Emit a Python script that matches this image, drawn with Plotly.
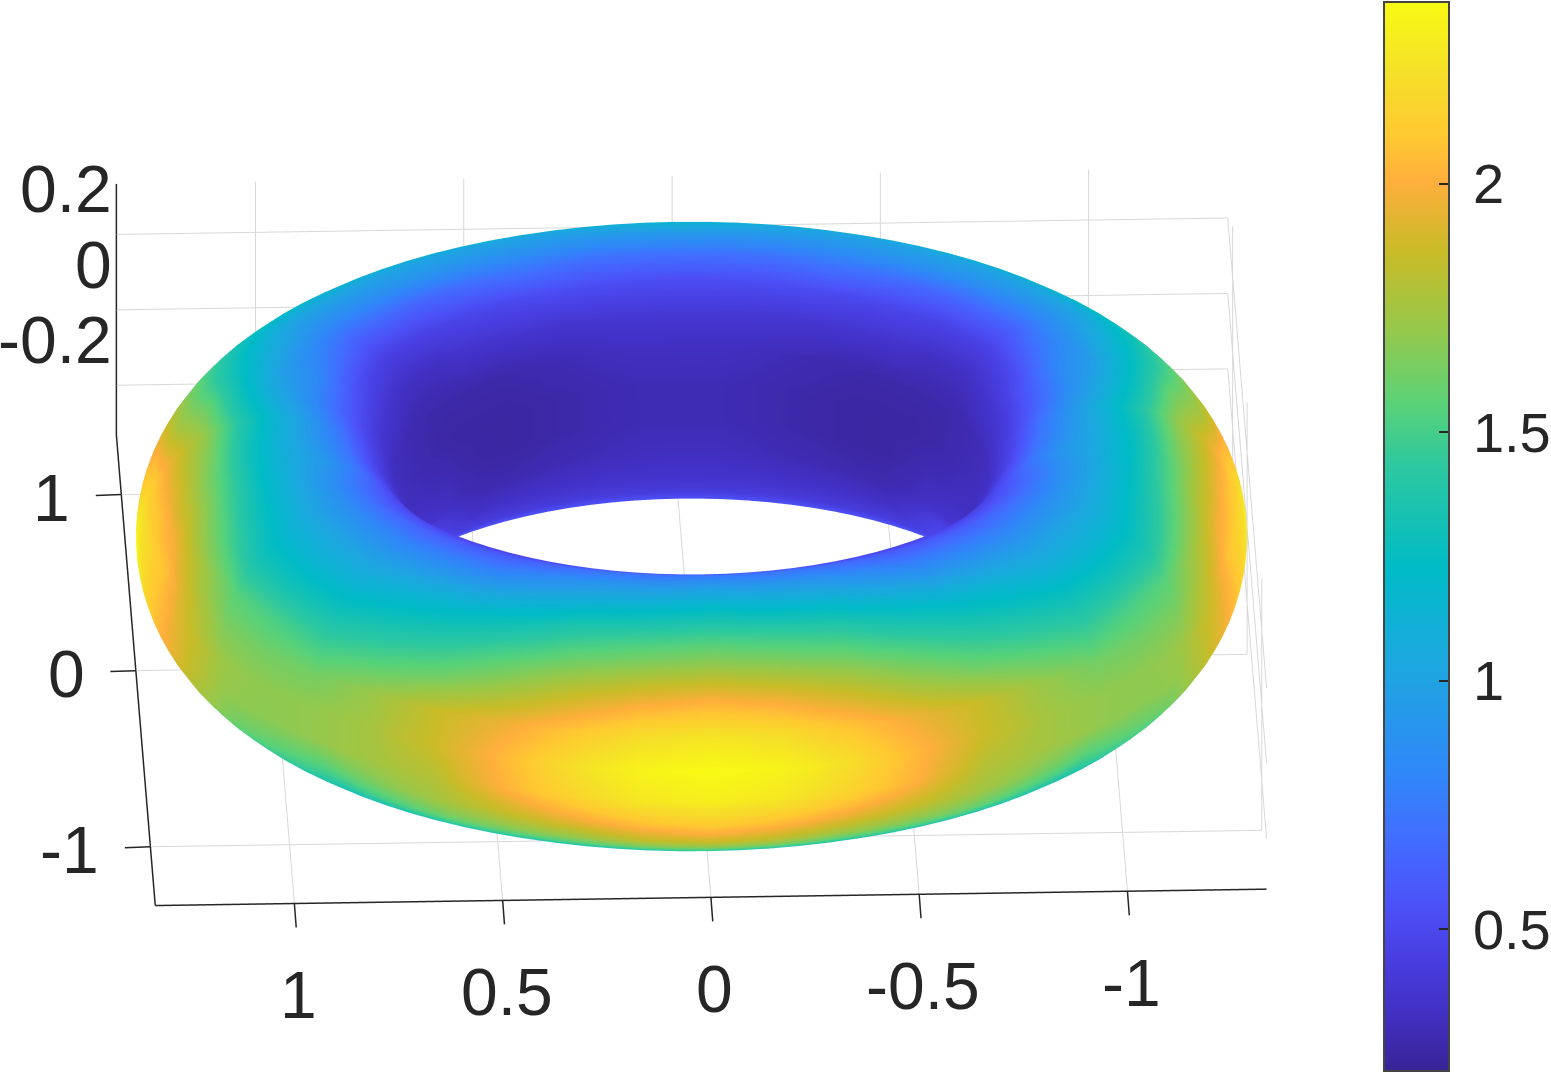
import numpy as np
import plotly.graph_objects as go

RING_RADIUS = 1.0
TUBE_RADIUS = 0.3333

# angle round the ring (0 = front, 180 = back); the picture is mirrored about 0
RING_DEG = [0, 3.75, 7.5, 11.25, 15, 18.75, 22.5, 26.25, 30, 33.75, 37.5, 41.25, 45, 48.75, 52.5, 56.25,
            60, 63.75, 67.5, 71.25, 75, 78.75, 82.5, 86.25, 90, 93.75, 97.5, 101.25, 105, 108.75, 112.5, 116.25,
            120, 123.75, 127.5, 131.25, 135, 138.75, 142.5, 146.25, 150, 153.75, 157.5, 161.25, 165, 168.75, 172.5, 176.25, 180]
# angle round the tube (0 = outer equator, 90 = top, 180 = inner equator)
TUBE_DEG = [-180, -165, -150, -135, -120, -105, -90, -75, -67.5, -60, -52.5, -45, -37.5, -30, -22.5, -15, -7.5,
            0, 7.5, 15, 22.5, 30, 37.5, 45, 52.5, 60, 67.5, 75, 90, 105, 120, 135, 150, 165]

# colour values, one row per TUBE_DEG, one column per RING_DEG
VALUES = [
    [.55, .55, .55, .55, .55, .55, .55, .55, .55, .535, .52, .51, .5, .485, .47, .455, .44, .43, .42, .41, .40, .385, .37, .36, .35, .345, .34, .335, .33, .32, .31, .305, .30, .285, .27, .26, .25, .25, .25, .255, .26, .265, .27, .28, .29, .295, .30, .30, .30],
    [.5] * 15 + [.49, .48, .47, .46, .455, .45, .44, .43, .425, .42, .415, .41, .405, .40, .385, .37, .36, .35, .33, .31, .295, .28, .28, .28, .285, .29, .295, .30, .305, .31, .315, .32, .32, .32],
    [.5] * 33 + [.46, .42, .385, .35, .35, .35, .35, .35, .35, .35, .355, .36, .36, .36, .36, .36],
    [.6] * 29 + [.59, .58, .565, .55, .525, .5, .475, .45, .44, .43, .425, .42, .42, .42, .42, .42, .42, .42, .42, .42],
    [.8] * 29 + [.775, .75, .725, .7, .675, .65, .625, .6, .585, .57, .56, .55, .55, .55, .55, .55, .55, .55, .55, .55],
    [1.0] * 29 + [.975, .95, .925, .9, .875, .85, .825, .8, .79, .78, .77, .76, .755, .75, .75, .75, .75, .75, .75, .75],
    [1.1] * 27 + [1.075, 1.05, 1.025] + [1.0] * 19,
    [1.15, 1.14, 1.13, 1.125, 1.12, 1.11] + [1.1] * 11 + [1.125, 1.15, 1.175] + [1.2] * 9 + [1.175] + [1.15] * 19,
    [1.3, 1.29, 1.275, 1.26, 1.25, 1.24, 1.23, 1.23, 1.225, 1.21, 1.2, 1.19, 1.175, 1.18, 1.185, 1.19, 1.2, 1.225, 1.25, 1.275, 1.3, 1.31, 1.325, 1.34, 1.35, 1.34, 1.325, 1.31, 1.3, 1.275, 1.25, 1.24] + [1.225] * 17,
    [1.45, 1.435, 1.42, 1.40, 1.38, 1.37, 1.36, 1.355, 1.35, 1.325, 1.3, 1.275, 1.25, 1.26, 1.27, 1.285, 1.3, 1.325, 1.35, 1.375, 1.4, 1.425, 1.45, 1.475, 1.5, 1.475, 1.45, 1.425, 1.4, 1.375, 1.35, 1.325] + [1.3] * 17,
    [1.65, 1.63, 1.61, 1.575, 1.54, 1.52, 1.505, 1.49, 1.475, 1.44, 1.4, 1.36, 1.325, 1.34, 1.36, 1.38, 1.4, 1.44, 1.475, 1.51, 1.55, 1.58, 1.615, 1.645, 1.675, 1.64, 1.6, 1.56, 1.525, 1.49, 1.45, 1.425, 1.4, 1.39, 1.375, 1.36] + [1.35] * 13,
    [1.85, 1.825, 1.8, 1.75, 1.7, 1.675, 1.65, 1.625, 1.6, 1.55, 1.5, 1.45, 1.4, 1.425, 1.45, 1.475, 1.5, 1.55, 1.6, 1.65, 1.7, 1.74, 1.78, 1.815, 1.85, 1.8, 1.75, 1.7, 1.65, 1.6, 1.55, 1.525, 1.5, 1.475, 1.45, 1.425] + [1.4] * 13,
    [1.975, 1.95, 1.925, 1.875, 1.825, 1.79, 1.75, 1.71, 1.675, 1.625, 1.575, 1.525, 1.475, 1.495, 1.515, 1.54, 1.56, 1.62, 1.675, 1.74, 1.8, 1.845, 1.89, 1.93, 1.975, 1.91, 1.85, 1.79, 1.725, 1.675, 1.625, 1.59, 1.55, 1.525, 1.5, 1.475] + [1.45] * 13,
    [2.1, 2.075, 2.05, 2.0, 1.95, 1.9, 1.85, 1.8, 1.75, 1.7, 1.65, 1.6, 1.55, 1.565, 1.58, 1.6, 1.62, 1.685, 1.75, 1.825, 1.9, 1.95, 2.0, 2.05, 2.1, 2.025, 1.95, 1.875, 1.8, 1.75, 1.7, 1.65, 1.6, 1.575, 1.55, 1.525] + [1.5] * 13,
    [2.2, 2.18, 2.155, 2.105, 2.05, 1.99, 1.925, 1.85, 1.775, 1.74, 1.7, 1.66, 1.625, 1.63, 1.63, 1.645, 1.66, 1.73, 1.8, 1.875, 1.95, 2.01, 2.075, 2.14, 2.2, 2.11, 2.025, 1.95, 1.875, 1.81, 1.75, 1.7, 1.65, 1.625, 1.6, 1.575, 1.55, 1.54] + [1.525] * 11,
    [2.3, 2.28, 2.26, 2.21, 2.15, 2.08, 2.0, 1.9, 1.8, 1.775, 1.75, 1.725, 1.7, 1.69, 1.68, 1.69, 1.7, 1.775, 1.85, 1.925, 2.0, 2.075, 2.15, 2.225, 2.3, 2.2, 2.1, 2.025, 1.95, 1.875, 1.8, 1.75, 1.7, 1.675, 1.65, 1.625, 1.6, 1.575] + [1.55] * 11,
    [2.33, 2.31, 2.29, 2.24, 2.175, 2.095, 2.01, 1.92, 1.83, 1.795, 1.75, 1.72, 1.70, 1.69, 1.685, 1.695, 1.715, 1.795, 1.865, 1.945, 2.025, 2.1, 2.175, 2.25, 2.33, 2.24, 2.15, 2.06, 1.975, 1.9, 1.825, 1.775, 1.725, 1.7, 1.675, 1.65, 1.625, 1.6, 1.575, 1.56, 1.55, 1.54] + [1.525] * 7,
    [2.36, 2.345, 2.32, 2.27, 2.2, 2.11, 2.02, 1.94, 1.86, 1.815, 1.75, 1.72, 1.70, 1.69, 1.69, 1.70, 1.73, 1.815, 1.88, 1.965, 2.05, 2.125, 2.2, 2.28, 2.36, 2.28, 2.2, 2.1, 2.0, 1.925, 1.85, 1.8, 1.75, 1.725, 1.7, 1.675, 1.65, 1.625, 1.6, 1.575, 1.55, 1.525] + [1.5] * 7,
    [2.305, 2.285, 2.26, 2.205, 2.14, 2.06, 1.985, 1.92, 1.855, 1.8, 1.735, 1.695, 1.66, 1.655, 1.655, 1.67, 1.69, 1.78, 1.865, 1.965, 2.065, 2.13, 2.19, 2.25, 2.305, 2.22, 2.14, 2.06, 1.975, 1.905, 1.835, 1.78, 1.725, 1.69, 1.65, 1.62, 1.585, 1.56, 1.54, 1.52, 1.5, 1.48, 1.46, 1.455, 1.45, 1.45, 1.45, 1.45, 1.45],
    [2.25, 2.225, 2.2, 2.14, 2.08, 2.015, 1.95, 1.9, 1.85, 1.785, 1.72, 1.67, 1.62, 1.62, 1.62, 1.635, 1.65, 1.75, 1.85, 1.965, 2.08, 2.13, 2.18, 2.215, 2.25, 2.165, 2.08, 2.015, 1.95, 1.885, 1.82, 1.76, 1.7, 1.65, 1.6, 1.56, 1.52, 1.5, 1.48, 1.465, 1.45, 1.435, 1.42, 1.41, 1.4, 1.4, 1.4, 1.4, 1.4],
    [2.125, 2.1, 2.075, 2.02, 1.965, 1.9, 1.835, 1.78, 1.725, 1.67, 1.62, 1.58, 1.535, 1.55, 1.56, 1.58, 1.6, 1.7, 1.8, 1.91, 2.015, 2.065, 2.115, 2.145, 2.175, 2.11, 2.04, 1.97, 1.9, 1.81, 1.71, 1.655, 1.6, 1.555, 1.51, 1.48, 1.45, 1.43, 1.405, 1.39, 1.375, 1.365, 1.355, 1.35, 1.34, 1.34, 1.34, 1.34, 1.34],
    [2.0, 1.975, 1.95, 1.9, 1.85, 1.785, 1.72, 1.66, 1.6, 1.56, 1.52, 1.485, 1.45, 1.475, 1.5, 1.525, 1.55, 1.65, 1.75, 1.85, 1.95, 2.0, 2.05, 2.075, 2.1, 2.06, 2.0, 1.93, 1.85, 1.73, 1.6, 1.55, 1.5, 1.46, 1.42, 1.4, 1.38, 1.355, 1.33, 1.315, 1.3, 1.295, 1.29, 1.285, 1.28, 1.28, 1.28, 1.28, 1.28],
    [1.85, 1.83, 1.805, 1.765, 1.725, 1.67, 1.61, 1.555, 1.5, 1.46, 1.425, 1.395, 1.365, 1.38, 1.4, 1.425, 1.45, 1.55, 1.65, 1.75, 1.85, 1.9, 1.95, 1.975, 2.0, 1.94, 1.875, 1.815, 1.75, 1.65, 1.55, 1.48, 1.41, 1.38, 1.35, 1.33, 1.315, 1.3, 1.29, 1.28, 1.275, 1.27, 1.27, 1.265, 1.265, 1.265, 1.265, 1.265, 1.265],
    [1.7, 1.68, 1.66, 1.63, 1.6, 1.55, 1.5, 1.45, 1.4, 1.365, 1.33, 1.305, 1.28, 1.29, 1.3, 1.325, 1.35, 1.45, 1.55, 1.65, 1.75, 1.8, 1.85, 1.875, 1.9, 1.825, 1.75, 1.7, 1.65, 1.57, 1.5, 1.41, 1.32, 1.3, 1.28, 1.265] + [1.25] * 13,
    [1.575, 1.56, 1.54, 1.515, 1.49, 1.44, 1.39, 1.345, 1.3, 1.27, 1.24, 1.215, 1.19, 1.205, 1.22, 1.25, 1.275, 1.36, 1.45, 1.54, 1.625, 1.68, 1.735, 1.77, 1.8, 1.74, 1.675, 1.605, 1.535, 1.465, 1.4, 1.33, 1.26, 1.24, 1.225, 1.21, 1.2, 1.2, 1.2, 1.2, 1.2, 1.2, 1.205, 1.21, 1.215, 1.22, 1.23, 1.24, 1.25],
    [1.45, 1.435, 1.42, 1.4, 1.38, 1.33, 1.28, 1.24, 1.2, 1.175, 1.15, 1.125, 1.1, 1.12, 1.14, 1.17, 1.2, 1.275, 1.35, 1.43, 1.5, 1.56, 1.62, 1.67, 1.7, 1.65, 1.6, 1.51, 1.42, 1.36, 1.3, 1.25, 1.2, 1.185, 1.17, 1.16, 1.15, 1.15, 1.15, 1.15, 1.15, 1.155, 1.16, 1.17, 1.18, 1.195, 1.21, 1.23, 1.25],
    [1.325, 1.31, 1.29, 1.27, 1.25, 1.2, 1.155, 1.115, 1.075, 1.06, 1.05, 1.04, 1.025, 1.05, 1.07, 1.1, 1.125, 1.19, 1.25, 1.315, 1.375, 1.425, 1.475, 1.52, 1.55, 1.5, 1.45, 1.38, 1.31, 1.255, 1.2, 1.15, 1.1, 1.09, 1.085, 1.08, 1.075, 1.075, 1.075, 1.075, 1.075, 1.08, 1.085, 1.09, 1.1, 1.12, 1.135, 1.155, 1.175],
    [1.2, 1.18, 1.16, 1.14, 1.12, 1.075, 1.03, .99, .95, .95, .95, .95, .95, .975, 1.0, 1.025, 1.05, 1.1, 1.15, 1.2, 1.25, 1.29, 1.33, 1.37, 1.4, 1.35, 1.3, 1.25, 1.2, 1.15, 1.1, 1.05, 1.0, 1.0, 1.0, 1.0, 1.0, 1.0, 1.0, 1.0, 1.0, 1.005, 1.01, 1.015, 1.02, 1.04, 1.06, 1.08, 1.1],
    [.95, .935, .92, .91, .9, .86, .82, .785, .75, .755, .76, .77, .78, .81, .84, .87, .9, .935, .97, 1.01, 1.05, 1.075, 1.1, 1.13, 1.15, 1.1, 1.05, 1.0, .95, .925, .9, .875, .85, .85, .86, .87, .88, .89, .9, .9, .9, .9, .9, .9, .9, .9, .9, .91, .92],
    [.75, .74, .73, .725, .72, .69, .66, .63, .6, .605, .61, .615, .62, .645, .67, .695, .72, .76, .8, .86, .92, .92, .92, .92, .92, .89, .85, .83, .82, .77, .72, .68, .63, .64, .65, .65, .65, .66, .67, .69, .7, .72, .72, .71, .7, .7, .7, .7, .7],
    [.6, .59, .58, .565, .55, .525, .5, .49, .48, .475, .47, .475, .48, .495, .51, .53, .55, .58, .62, .67, .72, .72, .72, .71, .7, .66, .62, .6, .57, .53, .5, .47, .45, .45, .46, .46, .47, .48, .49, .49, .5, .51, .52, .52, .52, .52, .52, .52, .52],
    [.5, .49, .48, .465, .45, .45, .45, .45, .45, .44, .43, .425, .42, .43, .44, .45, .46, .47, .48, .49, .5, .49, .48, .47, .47, .45, .43, .41, .4, .38, .36, .34, .33, .33, .33, .34, .36, .365, .37, .375, .38, .38, .38, .385, .39, .395, .4, .4, .4],
    [.5, .49, .48, .465, .45, .45, .45, .45, .45, .44, .43, .425, .42, .415, .41, .405, .4, .385, .37, .36, .35, .345, .34, .335, .33, .32, .31, .305, .3, .29, .28, .275, .27, .27, .27, .27, .27, .27, .27, .275, .28, .29, .3, .31, .32, .325, .33, .33, .33],
    [.55, .54, .53, .515, .5, .5, .5, .5, .5, .49, .48, .465, .45, .435, .42, .41, .4, .4, .4, .4, .4, .38, .36, .34, .32, .315, .31, .305, .3, .29, .28, .27, .26, .255, .25, .25, .25, .25, .25, .255, .26, .265, .27, .28, .29, .295, .3, .3, .3],
]

COLOR_MIN = 0.214
COLOR_MAX = 2.366
COLORBAR_TICKS = [0.5, 1, 1.5, 2]
COLORBAR_LABELS = ['\u20090.5', '\u20091', '\u20091.5', '\u20092']

X_TICKS = [-1, -0.5, 0, 0.5, 1]
X_LABELS = ['-1', '-0.5', '0', '0.5', '1']
Y_TICKS = [-1, 0, 1]
Y_LABELS = ['-1', '0', '1']
Z_TICKS = [-0.2, 0, 0.2]
Z_LABELS = ['-0.2', '0', '0.2']
X_LIM = 1.334
Y_LIM = 1.334
Z_LIM = 0.334

# colours picked off the colour bar in the picture
COLORSCALE = [
    [0, 'rgb(56,35,150)'], [.054, 'rgb(66,48,195)'], [.106, 'rgb(72,62,225)'],
    [.157, 'rgb(76,82,248)'], [.22, 'rgb(65,110,255)'], [.278, 'rgb(48,135,248)'],
    [.374, 'rgb(30,165,225)'], [.47, 'rgb(0,187,198)'], [.566, 'rgb(45,200,160)'],
    [.624, 'rgb(90,210,120)'], [.694, 'rgb(150,200,75)'], [.765, 'rgb(200,188,40)'],
    [.803, 'rgb(230,180,50)'], [.832, 'rgb(255,175,60)'], [.873, 'rgb(255,200,50)'],
    [.937, 'rgb(245,225,40)'], [1, 'rgb(248,250,20)'],
]

FONT = 'Liberation Sans, Arial, sans-serif'
TEXT_COLOR = '#262626'
GRID_COLOR = '#d8d8d8'
SCENE_SCALE = 2.0727

# mirror the half table and close the surface in both directions
half = np.array(VALUES)
full = np.hstack([half[:, :0:-1], half])
full = np.vstack([full, full[:1]])
ring = np.radians(np.array([-a for a in RING_DEG[:0:-1]] + RING_DEG))
tube = np.radians(np.array(TUBE_DEG + [180]))

radial = RING_RADIUS + TUBE_RADIUS * np.cos(tube)
x = np.outer(radial, np.sin(ring))
y = np.outer(radial, -np.cos(ring))
z = np.outer(TUBE_RADIUS * np.sin(tube), np.ones(len(ring)))

fig = go.Figure(go.Surface(
    x=x, y=y, z=z,
    surfacecolor=full,
    cmin=COLOR_MIN, cmax=COLOR_MAX,
    colorscale=COLORSCALE,
    hoverinfo='skip',
    lighting=dict(ambient=1, diffuse=0, specular=0, fresnel=0, roughness=1),
    contours=dict(x=dict(highlight=False), y=dict(highlight=False), z=dict(highlight=False)),
    colorbar=dict(
        x=1384 / 1551, xanchor='left', xpad=0,
        y=0.5, yanchor='middle', ypad=0,
        thickness=65, thicknessmode='pixels',
        len=1069, lenmode='pixels',
        outlinewidth=2, outlinecolor='#444444',
        tickmode='array', tickvals=COLORBAR_TICKS, ticktext=COLORBAR_LABELS,
        ticks='inside', ticklen=11, tickwidth=1.5, tickcolor='#262626',
        tickfont=dict(family=FONT, size=56, color=TEXT_COLOR),
    ),
))

# grid on the far right wall, plotly only draws the two back faces here
wall_y, wall_z = [], []
for val in Z_TICKS:
    wall_y += [Y_LIM, -Y_LIM, None]
    wall_z += [val, val, None]
for val in Y_TICKS:
    wall_y += [val, val, None]
    wall_z += [-Z_LIM, Z_LIM, None]
fig.add_trace(go.Scatter3d(
    x=[-X_LIM if v is not None else None for v in wall_y], y=wall_y, z=wall_z,
    mode='lines', line=dict(color=GRID_COLOR, width=2),
    hoverinfo='skip', showlegend=False,
))


def axis(ticks, lo, hi):
    # gl3d tick text is crude at this size and ticklen has no effect, so both are scene annotations
    return dict(
        range=[lo, hi],
        tickmode='array', tickvals=ticks,
        showticklabels=False,
        ticks='', ticklen=0,
        showline=True, linecolor='#262626', linewidth=3,
        showgrid=True, gridcolor=GRID_COLOR, gridwidth=2,
        zeroline=False, showbackground=False, showspikes=False,
        title=dict(text=''),
    )


def tick_label(text, xv, yv, zv, xanchor, xshift, yshift):
    return dict(
        x=xv, y=yv, z=zv, text=text, showarrow=False,
        xanchor=xanchor, yanchor='middle', xshift=xshift, yshift=yshift,
        font=dict(family=FONT, size=66, color=TEXT_COLOR),
    )


def tick_mark(xv, yv, zv, ax, ay):
    return dict(
        x=xv, y=yv, z=zv, text=' ', showarrow=True,
        arrowhead=0, arrowwidth=1.5, arrowcolor='#262626', standoff=0,
        ax=ax, ay=ay, font=dict(size=1),
    )


labels = []
for val, text in zip(X_TICKS, X_LABELS):
    labels.append(tick_label(text, val, -Y_LIM, -Z_LIM, 'center', 4, -92))
    labels.append(tick_mark(val, -Y_LIM, -Z_LIM, 2, 26))
for val, text in zip(Y_TICKS, Y_LABELS):
    labels.append(tick_label(text, X_LIM, val, -Z_LIM, 'right', -49, -3))
    labels.append(tick_mark(X_LIM, val, -Z_LIM, -27, 1))
for val, text in zip(Z_TICKS, Z_LABELS):
    labels.append(tick_label(text, X_LIM, Y_LIM, val, 'right', -2, 45))

fig.update_layout(
    width=1551, height=1073,
    margin=dict(l=0, r=0, t=0, b=0, autoexpand=False),
    paper_bgcolor='white',
    showlegend=False,
    scene=dict(
        domain=dict(x=[0, 1383 / 1551], y=[0, 1]),
        xaxis=axis(X_TICKS, X_LIM, -X_LIM),
        yaxis=axis(Y_TICKS, -Y_LIM, Y_LIM),
        zaxis=axis(Z_TICKS, -Z_LIM, Z_LIM),
        aspectmode='manual',
        aspectratio=dict(x=SCENE_SCALE, y=SCENE_SCALE, z=0.25 * SCENE_SCALE),
        camera=dict(
            projection=dict(type='orthographic'),
            eye=dict(x=-0.0949, y=-2.717, z=1.268),
            center=dict(x=0, y=0, z=0),
            up=dict(x=0, y=0, z=1),
        ),
        annotations=labels,
    ),
)

fig.write_html("out.html", config={'displayModeBar': False},
               post_script="document.body.style.margin = '0';")
